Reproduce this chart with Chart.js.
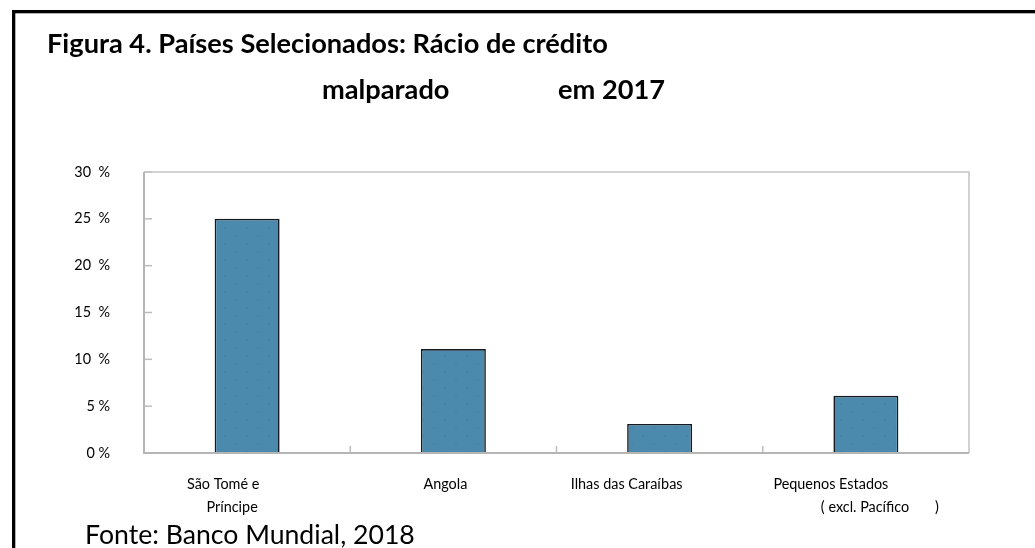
<!DOCTYPE html>
<html>
<head>
<meta charset="utf-8">
<script src="https://cdn.jsdelivr.net/npm/chart.js@4.4.1/dist/chart.umd.min.js"></script>
<style>
  html, body { margin: 0; padding: 0; background: #fff; overflow: hidden; }
  #wrap { position: relative; width: 1035px; height: 548px; }
  canvas { display: block; }
</style>
</head>
<body>
<div id="wrap"><canvas id="c" width="1035" height="548"></canvas></div>
<script>
// ---- data ----
const categories = [
  ["São Tomé e", "Príncipe"],
  ["Angola"],
  ["Ilhas das Caraíbas"],
  ["Pequenos Estados", "( excl. Pacífico       )"]
];
const npl2017 = [25, 11.1, 3.1, 6.1];
const yTicks = [0, 5, 10, 15, 20, 25, 30];
const yTickLabels = ["0 %", "5 %", "10  %", "15  %", "20  %", "25  %", "30  %"];
const titleLine1 = "Figura 4. Países Selecionados: Rácio de crédito";
const titleLine2a = "malparado";
const titleLine2b = "em 2017";
const sourceNote = "Fonte: Banco Mundial, 2018";

// ---- styling / layout ----
const FAMILY = "Lato, 'Open Sans', 'DejaVu Sans', sans-serif";
const labelNudge = [[-24, -15], [-8], [-33], [-35, 14]]; // horizontal shift per label line
const measureCtx = document.createElement('canvas').getContext('2d');
function fitSize(text, weight, width) {
  measureCtx.font = `${weight} 100px ${FAMILY}`;
  return 100 * width / measureCtx.measureText(text).width;
}
const titleSize = fitSize(titleLine1, 'bold', 561);
const noteSize = fitSize(sourceNote, 'normal', 330);
const tickSize = fitSize("Ilhas das Caraíbas", 'normal', 112);

function barFill() {
  const p = document.createElement('canvas');
  p.width = 22; p.height = 16;
  const g = p.getContext('2d');
  g.fillStyle = '#4b8aad';
  g.fillRect(0, 0, 22, 16);
  g.fillStyle = '#4781a9';
  [[5, 4], [16, 12]].forEach(([x, y]) => {
    g.beginPath(); g.arc(x, y, 1.1, 0, Math.PI * 2); g.fill();
  });
  return g.createPattern(p, 'repeat');
}

const pagePlugin = {
  id: 'page',
  afterDatasetsDraw(chart) {
    const ctx = chart.ctx;
    const ca = chart.chartArea;
    const ys = chart.scales.y, xs = chart.scales.x;
    ctx.save();
    // inward tick marks on the value axis
    ctx.strokeStyle = '#bdbdbd';
    ctx.lineWidth = 1.5;
    yTicks.forEach(v => {
      const y = ys.getPixelForValue(v);
      ctx.beginPath(); ctx.moveTo(ca.left, y); ctx.lineTo(ca.left + 8, y); ctx.stroke();
    });
    // category separators on the bottom axis
    for (let i = 1; i < categories.length; i++) {
      const x = (xs.getPixelForValue(i - 1) + xs.getPixelForValue(i)) / 2;
      ctx.beginPath(); ctx.moveTo(x, ca.bottom); ctx.lineTo(x, ca.bottom - 7); ctx.stroke();
    }
    // plot frame
    ctx.strokeStyle = '#c3c3c3';
    ctx.lineWidth = 1.5;
    ctx.beginPath();
    ctx.moveTo(ca.left, ca.top); ctx.lineTo(ca.right, ca.top); ctx.lineTo(ca.right, ca.bottom);
    ctx.stroke();
    ctx.strokeStyle = '#b5b5b5';
    ctx.lineWidth = 2;
    ctx.beginPath();
    ctx.moveTo(ca.left, ca.top); ctx.lineTo(ca.left, ca.bottom); ctx.lineTo(ca.right, ca.bottom);
    ctx.stroke();
    ctx.restore();
  },
  afterDraw(chart) {
    const ctx = chart.ctx;
    const ca = chart.chartArea;
    const xs = chart.scales.x;
    ctx.save();
    // category labels
    ctx.fillStyle = '#000';
    ctx.font = `normal ${tickSize}px ${FAMILY}`;
    ctx.textAlign = 'center';
    ctx.textBaseline = 'middle';
    categories.forEach((lines, i) => {
      const cx = xs.getPixelForValue(i);
      lines.forEach((t, j) => {
        ctx.fillText(t, cx + labelNudge[i][j], ca.bottom + 31 + j * 23);
      });
    });
    // title
    ctx.textAlign = 'left';
    ctx.textBaseline = 'alphabetic';
    ctx.font = `bold ${titleSize}px ${FAMILY}`;
    ctx.fillText(titleLine1, 47, 53);
    ctx.fillText(titleLine2a, 322, 99);
    ctx.fillText(titleLine2b, 558, 99);
    // source note
    ctx.font = `normal ${noteSize}px ${FAMILY}`;
    ctx.fillText(sourceNote, 85, 544);
    // outer black frame
    ctx.fillStyle = '#000';
    ctx.fillRect(12, 10, chart.width - 12, 3.3);
    ctx.fillRect(12, 10, 3.3, chart.height - 10);
    ctx.restore();
  }
};

new Chart(document.getElementById('c'), {
  type: 'bar',
  data: {
    labels: categories,
    datasets: [{
      data: npl2017,
      backgroundColor: barFill(),
      borderColor: '#141a20',
      borderWidth: 1.6,
      borderSkipped: 'bottom',
      barPercentage: 0.315,
      categoryPercentage: 1
    }]
  },
  options: {
    responsive: false,
    animation: false,
    events: [],
    layout: { padding: { top: 172, right: 66, left: 0, bottom: 0 } },
    plugins: { legend: { display: false }, tooltip: { enabled: false }, title: { display: false } },
    scales: {
      x: {
        grid: { display: false },
        border: { display: false },
        ticks: { display: false },
        afterFit(s) { s.height = 95; }
      },
      y: {
        min: 0,
        max: 30,
        afterBuildTicks(s) { s.ticks = yTicks.map(v => ({ value: v })); },
        grid: { display: false, drawTicks: false },
        border: { display: false },
        ticks: {
          padding: 34,
          color: '#000',
          font: { family: FAMILY, size: tickSize },
          callback: (v) => yTickLabels[yTicks.indexOf(v)]
        },
        afterFit(s) { s.width = 144; }
      }
    }
  },
  plugins: [pagePlugin]
});
</script>
</body>
</html>
